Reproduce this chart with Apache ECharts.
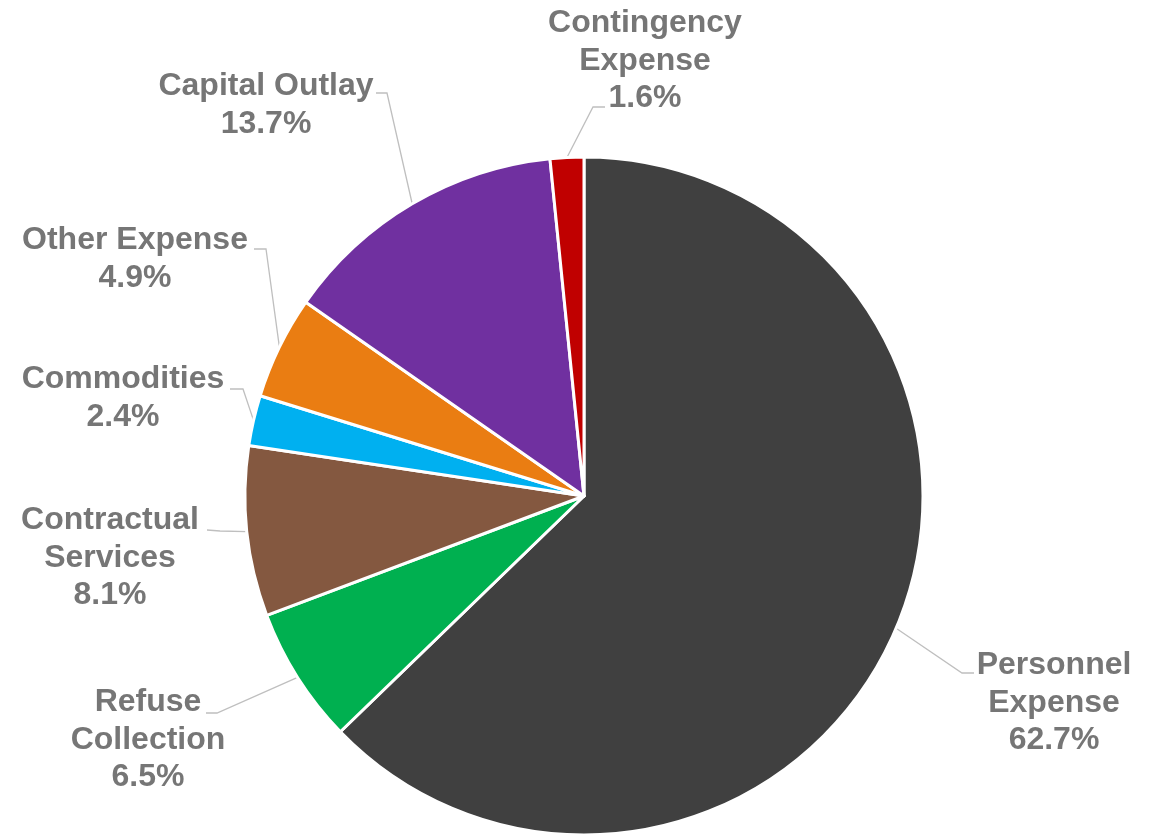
<!DOCTYPE html>
<html>
<head>
<meta charset="utf-8">
<title>Expenditures by Category</title>
<script src="https://cdn.jsdelivr.net/npm/echarts@6/dist/echarts.min.js"></script>
<style>
  html, body { margin: 0; padding: 0; background: #ffffff; }
  #chart { width: 1158px; height: 835px; }
</style>
</head>
<body>
<div id="chart"></div>
<script>
// Expense categories, clockwise from 12 o'clock
const categories = [
  'Personnel\nExpense',
  'Refuse\nCollection',
  'Contractual\nServices',
  'Commodities',
  'Other Expense',
  'Capital Outlay',
  'Contingency\nExpense'
];
// Share of total, percent
const shares = [62.7, 6.5, 8.1, 2.4, 4.9, 13.7, 1.6];
const sliceColors = ['#404040', '#00b050', '#845840', '#00b0f0', '#ea7d12', '#7030a0', '#c00000'];

// Label block centre and leader-line elbow/end per slice: [cx, cy, elbowX, elbowY, endX, endY]
const labelPlacement = [
  [1054, 703, 962, 673, 974, 673],
  [148, 740, 217, 713, 206, 713],
  [110, 558, 220, 531, 207, 530],
  [123, 398, 243, 389, 230, 389],
  [135, 259, 266, 249, 254, 249],
  [266, 105, 387, 93, 376, 93],
  [645, 61, 593, 107, 605, 107]
];

const chart = echarts.init(document.getElementById('chart'), null, { renderer: 'canvas' });

chart.setOption({
  animation: false,
  backgroundColor: '#ffffff',
  series: [{
    type: 'pie',
    center: [584, 496],
    radius: [0, 339],
    startAngle: 90,
    clockwise: true,
    avoidLabelOverlap: false,
    data: categories.map((name, i) => ({
      name: name,
      value: shares[i],
      itemStyle: { color: sliceColors[i] }
    })),
    itemStyle: { borderColor: '#ffffff', borderWidth: 3 },
    label: {
      show: true,
      position: 'outside',
      formatter: p => p.name + '\n' + p.value.toFixed(1) + '%',
      fontFamily: '"Liberation Sans", Arial, sans-serif',
      fontWeight: 'bold',
      fontSize: 32,
      lineHeight: 37.5,
      color: '#767676',
      align: 'center'
    },
    labelLine: {
      show: true,
      length: 20,
      length2: 10,
      smooth: false,
      lineStyle: { color: '#bfbfbf', width: 1.3 }
    },
    labelLayout: function (params) {
      const pl = labelPlacement[params.dataIndex];
      const start = params.labelLinePoints ? params.labelLinePoints[0] : [pl[2], pl[3]];
      return {
        x: pl[0],
        y: pl[1],
        align: 'center',
        verticalAlign: 'middle',
        labelLinePoints: [start, [pl[2], pl[3]], [pl[4], pl[5]]]
      };
    },
    emphasis: { disabled: true }
  }]
});
</script>
</body>
</html>
